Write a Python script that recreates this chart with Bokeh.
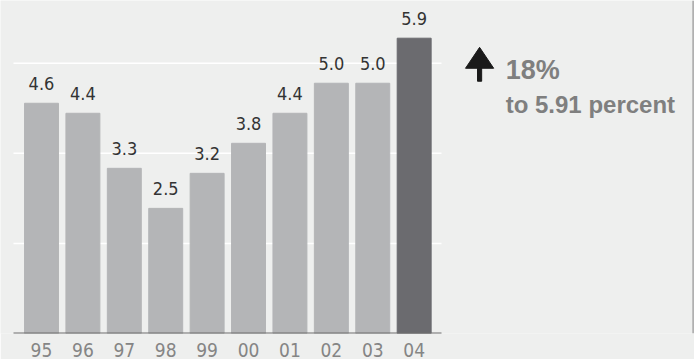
from bokeh.plotting import figure
from bokeh.models import ColumnDataSource, Range1d, FixedTicker, Label, Span
from bokeh.core.properties import value
from bokeh.embed import file_html
from bokeh.resources import INLINE

years = ["95", "96", "97", "98", "99", "00", "01", "02", "03", "04"]
rates = [4.6, 4.4, 3.3, 2.5, 3.2, 3.8, 4.4, 5.0, 5.0, 5.9]
labels = ["4.6", "4.4", "3.3", "2.5", "3.2", "3.8", "4.4", "5.0", "5.0", "5.9"]
grid_levels = [1.8, 3.6, 5.4]
change_text = "18%"
change_sub = "to 5.91 percent"

BG = "#eeefee"
NARROW = "'DejaVu Sans Condensed', 'Liberation Sans Narrow', sans-serif"
BOLD = "'Liberation Sans', Arial, sans-serif"

xs = list(range(len(years)))
colors = ["#b4b5b7"] * (len(years) - 1) + ["#6b6b6f"]
src = ColumnDataSource(dict(x=xs, top=rates, lab=labels, color=colors))

p = figure(width=694, height=359, output_backend="svg", toolbar_location=None,
           x_range=Range1d(-0.990, 15.77), y_range=Range1d(0, 6.653),
           min_border_left=0, min_border_right=0, min_border_top=0, min_border_bottom=25)
p.background_fill_color = BG
p.border_fill_color = BG
p.outline_line_color = None
p.grid.visible = False
p.yaxis.visible = False

x0, x1 = -0.676, 9.66
p.segment(x0=[x0] * len(grid_levels), x1=[x1] * len(grid_levels), y0=grid_levels, y1=grid_levels,
          line_color="white", line_width=1.5)

p.vbar(x="x", top="top", bottom=0, width=0.82, color="color", source=src)
p.segment(x0=[x0], x1=[x1], y0=[0], y1=[0], line_color="#6e6e6e", line_width=2)

p.text(x="x", y="top", text="lab", source=src, text_align="center", text_baseline="bottom",
       y_offset=-13, text_font=value(NARROW), text_font_size="18px", text_color="#333333")

ax = p.xaxis[0]
ax.ticker = FixedTicker(ticks=xs)
ax.major_label_overrides = {i: y for i, y in enumerate(years)}
ax.axis_line_color = None
ax.major_tick_line_color = None
ax.minor_tick_line_color = None
ax.major_label_standoff = 3
ax.major_label_text_font = NARROW
ax.major_label_text_font_size = "19px"
ax.major_label_text_color = "#858585"

# arrow
p.patch(x=[10.24, 10.58, 10.92], y=[5.299, 5.717, 5.299], color="#1a1a1a")
p.quad(left=[10.53], right=[10.63], bottom=[5.04], top=[5.30], color="#1a1a1a")

p.add_layout(Label(x=11.21, y=4.97, text=change_text, text_font=BOLD,
                   text_font_style="bold", text_font_size="27px", text_color="#7f7f7f",
                   text_baseline="bottom"))
p.add_layout(Label(x=11.21, y=4.30, text=change_sub, text_font=BOLD,
                   text_font_style="bold", text_font_size="24px", text_color="#7f7f7f",
                   text_baseline="bottom"))

p.add_layout(Span(location=15.74, dimension="height", line_color="#b0b0b0", line_width=2))

open("out.html", "w").write(file_html(p, INLINE))
